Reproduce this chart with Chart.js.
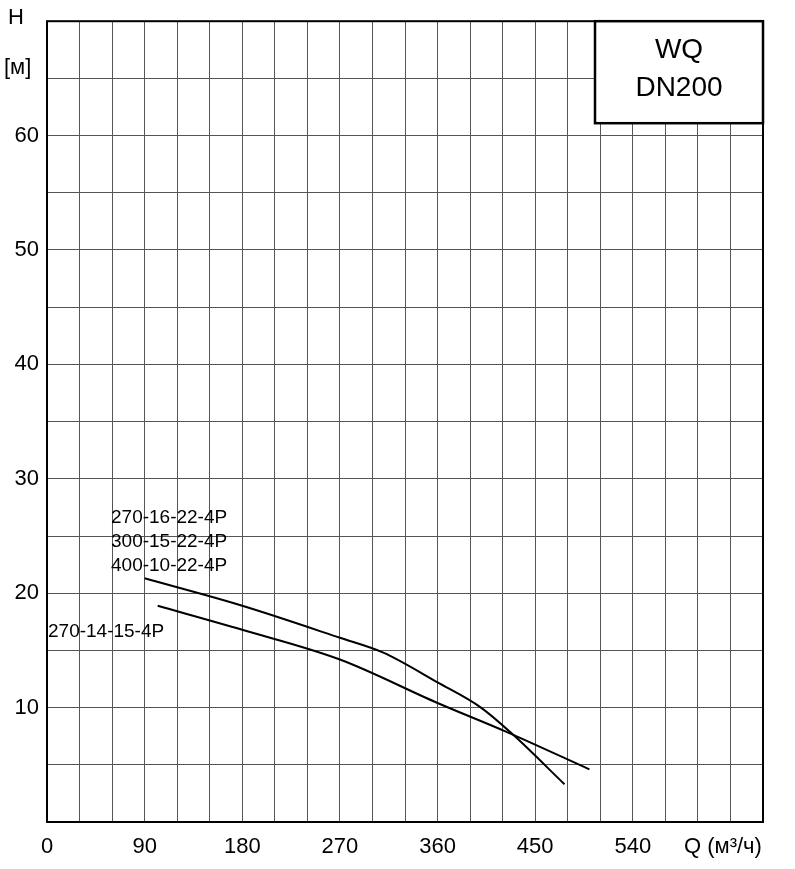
<!DOCTYPE html>
<html>
<head>
<meta charset="utf-8">
<script src="https://cdn.jsdelivr.net/npm/chart.js@4"></script>
<style>
  html, body { margin: 0; padding: 0; background: #fff; }
  #wrap { width: 795px; height: 869px; }
</style>
</head>
<body>
<div id="wrap"><canvas id="pumpChart"></canvas></div>
<script>
// curve 270-16-22-4P / 300-15-22-4P / 400-10-22-4P
const upperQ = [90, 180, 270, 310, 360, 400, 430, 477];
const upperH = [21.3, 18.9, 16.1, 14.8, 12.2, 10.0, 7.6, 3.3];
// curve 270-14-15-4P
const lowerQ = [102, 180, 270, 360, 423, 500];
const lowerH = [18.9, 16.8, 14.2, 10.4, 7.9, 4.6];

const xLabels = [0, 90, 180, 270, 360, 450, 540];
const yLabels = [10, 20, 30, 40, 50, 60];

const font = "Liberation Sans, Arial, sans-serif";

function pts(xs, ys) {
    return xs.map((x, i) => ({ x: x, y: ys[i] }));
}

const annotations = {
    id: "annotations",
    afterDraw(chart) {
        const ctx = chart.ctx;
        const a = chart.chartArea;
        ctx.save();
        // frame
        ctx.strokeStyle = "#000";
        ctx.lineWidth = 2;
        ctx.strokeRect(a.left, a.top, a.right - a.left, a.bottom - a.top);
        // title box
        ctx.fillStyle = "#fff";
        ctx.fillRect(595, a.top, a.right - 595, 102);
        ctx.lineWidth = 2.5;
        ctx.strokeRect(595, a.top, a.right - 595, 102);
        ctx.fillStyle = "#000";
        ctx.textAlign = "center";
        ctx.textBaseline = "middle";
        ctx.font = "28px " + font;
        ctx.fillText("WQ", 679, 50);
        ctx.fillText("DN200", 679, 88);
        // axis titles
        ctx.font = "22px " + font;
        ctx.textAlign = "left";
        ctx.fillText("H", 8, 18);
        ctx.fillText("[м]", 4, 68);
        ctx.fillText("Q (м³/ч)", 684, 847);
        // curve labels
        ctx.font = "19px " + font;
        ctx.fillText("270-16-22-4P", 111, 518);
        ctx.fillText("300-15-22-4P", 111, 542);
        ctx.fillText("400-10-22-4P", 111, 566);
        ctx.fillText("270-14-15-4P", 48, 632);
        ctx.restore();
    }
};

const lineStyle = { showLine: true, borderColor: "#000", borderWidth: 2, pointRadius: 0, cubicInterpolationMode: "monotone" };

new Chart(document.getElementById("pumpChart"), {
    type: "scatter",
    data: {
        datasets: [
            Object.assign({ data: pts(upperQ, upperH) }, lineStyle),
            Object.assign({ data: pts(lowerQ, lowerH) }, lineStyle)
        ]
    },
    options: {
        responsive: true,
        maintainAspectRatio: false,
        animation: false,
        layout: { padding: { top: 18, right: 32, left: 0, bottom: 0 } },
        plugins: { legend: { display: false }, tooltip: { enabled: false } },
        scales: {
            x: {
                type: "linear", min: 0, max: 660,
                afterBuildTicks: s => { s.ticks = []; for (let v = 0; v <= 660; v += 30) s.ticks.push({ value: v }); },
                afterFit: s => { s.height = 47; },
                grid: { color: "#555", lineWidth: 1, drawTicks: false },
                border: { display: false },
                ticks: {
                    autoSkip: false, maxRotation: 0, color: "#000", padding: 12,
                    font: { family: font, size: 22 },
                    callback: v => xLabels.includes(v) ? String(v) : ""
                }
            },
            y: {
                type: "linear", min: 0, max: 70,
                afterBuildTicks: s => { s.ticks = []; for (let v = 0; v <= 70; v += 5) s.ticks.push({ value: v }); },
                afterFit: s => { s.width = 47; },
                grid: { color: "#555", lineWidth: 1, drawTicks: false },
                border: { display: false },
                ticks: {
                    autoSkip: false, color: "#000", padding: 8,
                    font: { family: font, size: 22 },
                    callback: v => yLabels.includes(v) ? String(v) : ""
                }
            }
        }
    },
    plugins: [annotations]
});
</script>
</body>
</html>
